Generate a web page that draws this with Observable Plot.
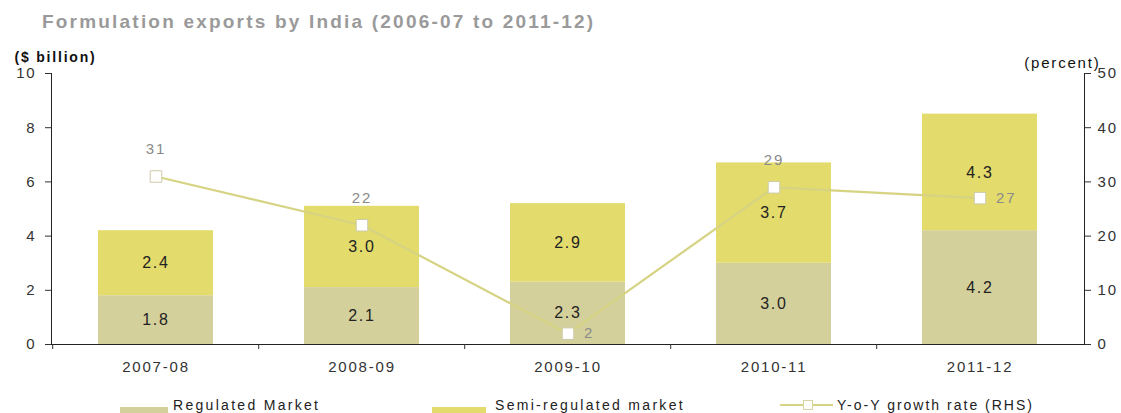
<!DOCTYPE html>
<html><head><meta charset="utf-8">
<script src="https://cdn.jsdelivr.net/npm/d3@7"></script>
<script src="https://cdn.jsdelivr.net/npm/@observablehq/plot@0.6"></script>
<style>
body{margin:0;background:#fff;font-family:"Liberation Sans",Arial,sans-serif;}
#wrap{position:relative;width:1121px;height:413px;overflow:hidden;background:#fff;}
#title{position:absolute;left:42px;top:11px;font-size:19px;font-weight:bold;color:#9a9a9a;letter-spacing:2.2px;line-height:22px;white-space:nowrap;}
#chart{position:absolute;left:0;top:40px;}
.sw{position:absolute;height:6px;top:407px;}
.lt{position:absolute;top:396px;font-size:14px;line-height:18px;color:#222;letter-spacing:2.3px;white-space:nowrap;}
</style></head>
<body>
<div id="wrap">
  <div id="title">Formulation exports by India (2006-07 to 2011-12)</div>
  <div id="chart"></div>
  <div id="legend"></div>
</div>
<script>
const categories = ["2007-08","2008-09","2009-10","2010-11","2011-12"];
const seriesNames = ["Regulated Market","Semi-regulated market"];
const regulated = [1.8,2.1,2.3,3.0,4.2];
const semiRegulated = [2.4,3.0,2.9,3.7,4.3];
const growth = [31,22,2,29,27];
const growthLabelRight = ["2009-10","2011-12"];
const leftTicks = [0,2,4,6,8,10];
const rightTicks = [0,10,20,30,40,50];
const growthName = "Y-o-Y growth rate (RHS)";

const colors = ["#d4d09c","#e3db6b"];
const lineColor = "#d6d383";
const W = 1121, H = 340, ML = 51, MR = 37, MT = 33, MB = 36;
const ratio = rightTicks[rightTicks.length-1] / leftTicks[leftTicks.length-1];
const step = (W - ML - MR) / categories.length;

const bars = categories.flatMap((c,i) => [
  {year:c, series:seriesNames[0], value:regulated[i]},
  {year:c, series:seriesNames[1], value:semiRegulated[i]}
]);
const growthData = categories.map((c,i) => ({year:c, g:growth[i]}));

const chart = Plot.plot({
  width:W, height:H, marginLeft:ML, marginRight:MR, marginTop:MT, marginBottom:MB,
  style:{fontFamily:'"Liberation Sans", Arial, sans-serif', fontSize:"15px", color:"#333", background:"#fff", letterSpacing:"1.8px", overflow:"visible"},
  x:{domain:categories, paddingInner:0.44, paddingOuter:0.22, label:null},
  y:{domain:[0,10], label:null},
  color:{domain:seriesNames, range:colors},
  marks:[
    Plot.barY(bars, Plot.stackY({x:"year", y:"value", fill:"series", order:seriesNames})),
    Plot.text(bars, Plot.stackY({x:"year", y:"value", z:"series", order:seriesNames, text:d => d.value.toFixed(1), fill:"#222", fontSize:16, letterSpacing:"1.2px"})),
    Plot.ruleY([0], {stroke:"#222"}),
    Plot.frame({anchor:"left", stroke:"#222"}),
    Plot.frame({anchor:"right", stroke:"#222"}),
    Plot.axisY({anchor:"left", ticks:leftTicks, tickSize:6, tickPadding:9, label:null}),
    Plot.axisY({anchor:"right", ticks:rightTicks.map(v => v/ratio), tickFormat:v => Math.round(v*ratio), tickSize:6, tickPadding:7, label:null}),
    Plot.axisX({tickSize:0, tickPadding:17, label:null}),
    Plot.axisX({tickSize:5, tickFormat:() => "", dx:-step/2, label:null}),
    Plot.line(growthData, {x:"year", y:d => d.g/ratio, stroke:lineColor, strokeWidth:2.2}),
    Plot.dot(growthData, {x:"year", y:d => d.g/ratio, symbol:"square", r:6.5, fill:"white", stroke:"#cdcaa8", strokeWidth:1}),
    Plot.text(growthData.filter(d => !growthLabelRight.includes(d.year)), {x:"year", y:d => d.g/ratio, text:d => String(d.g), dy:-27, fill:"#8a8a8a", fontSize:15}),
    Plot.text(growthData.filter(d => growthLabelRight.includes(d.year)), {x:"year", y:d => d.g/ratio, text:d => String(d.g), dx:16, textAnchor:"start", fill:"#8a8a8a", fontSize:15}),
    Plot.text(["($ billion)"], {frameAnchor:"top-left", dx:-37, dy:-21, textAnchor:"start", fontWeight:"bold", fill:"#111", fontSize:14, letterSpacing:"0.5px"}),
    Plot.text(["(percent)"], {frameAnchor:"top-right", dx:16, dy:-16, textAnchor:"end", fill:"#111", fontSize:15, letterSpacing:"1px"})
  ]
});
document.getElementById("chart").appendChild(chart);

const legend = document.getElementById("legend");
legend.innerHTML = `
  <div class="sw" style="left:120px;width:48px;background:${colors[0]}"></div>
  <div class="lt" style="left:173px">${seriesNames[0]}</div>
  <div class="sw" style="left:432px;width:54px;background:${colors[1]}"></div>
  <div class="lt" style="left:495px">${seriesNames[1]}</div>
  <div style="position:absolute;left:780px;top:404px;width:53px;height:2px;background:${lineColor}"></div>
  <div style="position:absolute;left:803px;top:400px;width:8px;height:8px;background:#fff;border:1px solid #d8d4a0"></div>
  <div class="lt" style="left:837px;letter-spacing:2px">${growthName}</div>`;
</script>
</body></html>
